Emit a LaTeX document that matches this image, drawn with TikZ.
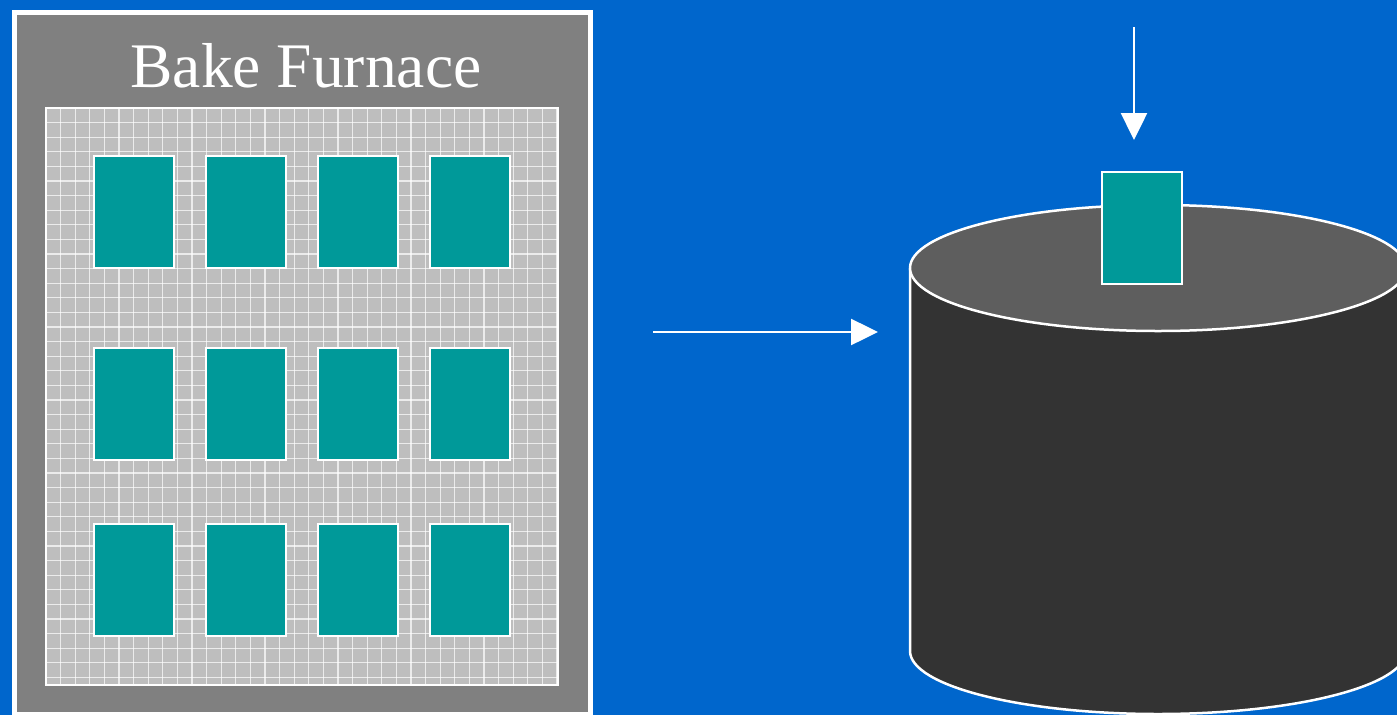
\documentclass[tikz,border=0pt]{standalone}
\usepackage{fontspec}
\setmainfont{Liberation Serif}
\usetikzlibrary{arrows.meta}
\definecolor{bgblue}{RGB}{0,102,204}
\definecolor{framegray}{RGB}{128,128,128}
\definecolor{gridgray}{RGB}{190,190,190}
\definecolor{cellteal}{RGB}{0,153,153}
\definecolor{cyltop}{RGB}{94,94,94}
\definecolor{cylbody}{RGB}{51,51,51}
\begin{document}
\begin{tikzpicture}[x=1pt,y=-1pt,
  frame/.style={draw=white, line width=5pt, fill=framegray, minimum width=576pt, minimum height=702pt, inner sep=0pt},
  gridbox/.style={draw=white, line width=2pt, fill=gridgray, minimum width=512pt, minimum height=577pt, inner sep=0pt},
  cell/.style={draw=white, line width=2pt, fill=cellteal, minimum width=80pt, minimum height=112pt, inner sep=0pt},
  titletext/.style={text=white, font=\fontsize{63.5}{68}\selectfont, inner sep=0pt},
  gridline/.style={draw=white, line width=1.1pt, draw opacity=0.7},
  cylline/.style={draw=white, line width=2.5pt},
  flow/.style={draw=white, fill=white, line width=2.5pt, -{Triangle[width=26pt,length=27pt]}}
]
\useasboundingbox (0,0) rectangle (1397,715);
\fill[bgblue] (0,0) rectangle (1397,715);
\begin{scope}
\clip (0,0) rectangle (1397,715);
% furnace
\node[frame] (furnace) at (302,363) {};
\node[gridbox] (grid) at (302,396.5) {};
\begin{scope}
\clip (47,109) rectangle (557,684);
\foreach \i in {1,...,35} {\draw[gridline] (46+14.6*\i,108) -- (46+14.6*\i,685);}
\foreach \j in {1,...,39} {\draw[gridline] (46,108+14.6*\j) -- (558,108+14.6*\j);}
\end{scope}
\node[titletext, anchor=base] (title) at (306,87) {Bake Furnace};
\foreach \c/\x in {1/134,2/246,3/358,4/470} {
  \foreach \r/\y in {1/212,2/404,3/580} {
    \node[cell] (b\r\c) at (\x,\y) {};
  }
}
% cylinder
\fill[cylbody] (910,268) -- (910,651) arc[start angle=180, end angle=0, x radius=248, y radius=63] -- (1406,268) -- cycle;
\draw[cylline] (910,268) -- (910,651) arc[start angle=180, end angle=0, x radius=248, y radius=63];
\filldraw[fill=cyltop, cylline] (1158,268) ellipse[x radius=248, y radius=63];
\node[cell] (cbox) at (1142,228) {};
\end{scope}
% arrows
\coordinate (inS) at (653,332);
\coordinate (inE) at (878,332);
\coordinate (dnS) at (1134,27);
\coordinate (dnE) at (1134,140);
\draw[flow] (inS) -- (inE);
\draw[flow] (dnS) -- (dnE);
\end{tikzpicture}
\end{document}
